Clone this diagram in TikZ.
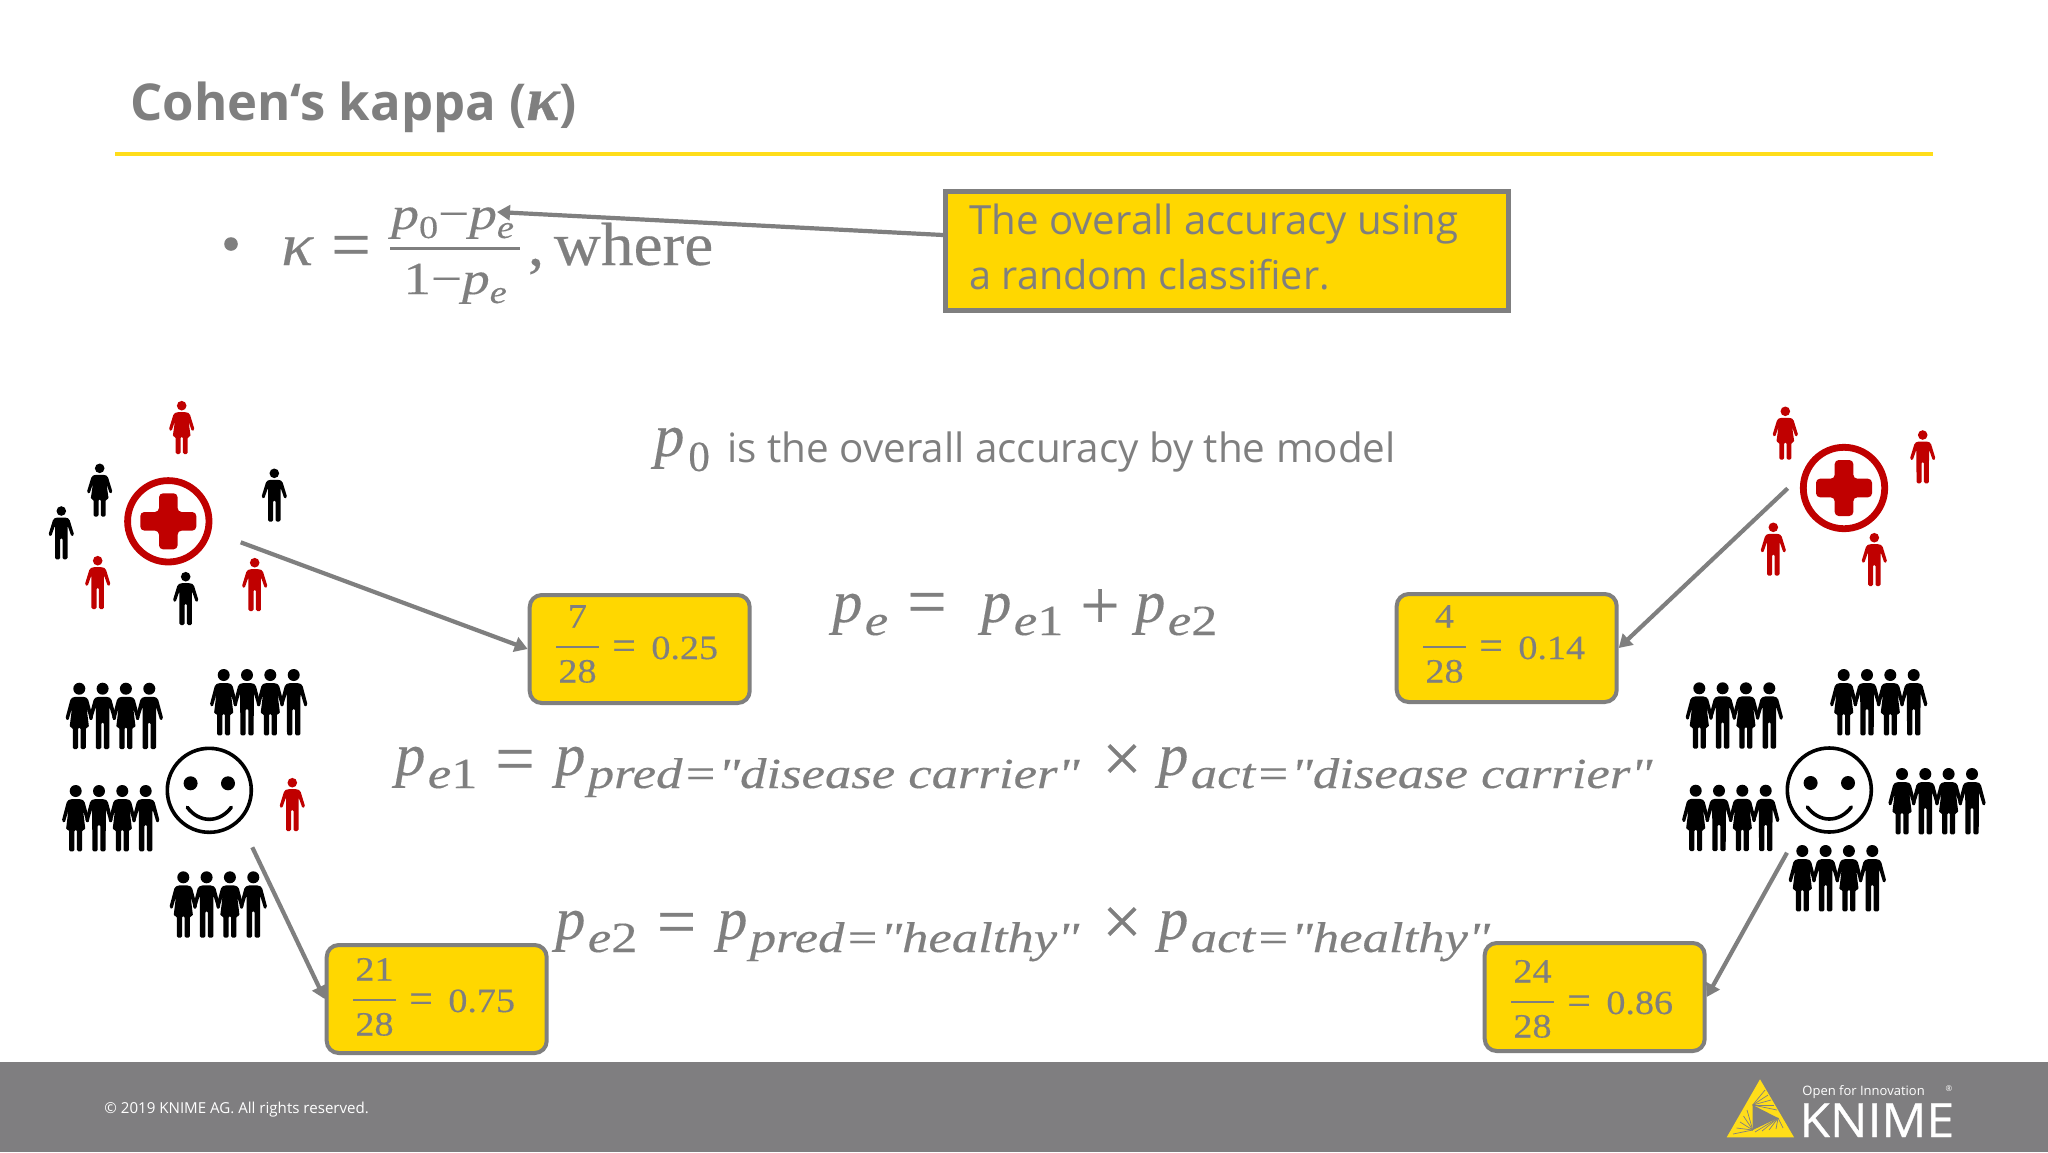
\documentclass[tikz,border=0pt]{standalone}
\usepackage{fontspec}
\usepackage{graphicx}
\usetikzlibrary{arrows.meta}
\setmainfont{Open Sans}
\newfontfamily\mf[FakeBold=0.25]{Liberation Serif}
\newfontfamily\mfb[FakeBold=0.6]{Liberation Serif}
\newfontfamily\kn[FakeBold=0.6]{Open Sans}
\definecolor{txtgray}{HTML}{7F7F7F}
\definecolor{footgray}{HTML}{7F7E80}
\definecolor{kyellow}{HTML}{FFD700}
\definecolor{linegold}{HTML}{FFDD1A}
\definecolor{redic}{HTML}{C00000}
\newcommand\bigP{{\fontsize{30}{30}\selectfont\mf\itshape p}}
\newcommand\subM[1]{\raisebox{-6.5pt}{\scalebox{1.225}[1]{\fontsize{21.5}{22}\selectfont\mf\itshape #1}}}
\newcommand\pTerm[1]{\bigP\hspace{1.2pt}\subM{#1}}
\newcommand\smallP[1]{{\fontsize{23}{23}\selectfont\mf\itshape p}\raisebox{-4.5pt}{\fontsize{16}{16}\selectfont\mf\itshape #1}}
\newcommand\symb[1]{{\fontsize{35}{35}\selectfont\mf #1}}
\tikzset{
  txt/.style={anchor=base west,inner sep=0pt,text=txtgray},
  sym/.style={anchor=center,inner sep=0pt,text=txtgray},
  ybox/.style={draw=txtgray,fill=kyellow,line width=2pt,rounded corners=6pt,inner sep=0pt},
  conn/.style={draw=txtgray,line width=2.1pt,-{Triangle[length=6.5pt,width=7.5pt]}},
}
% man/woman: x, y (head centre), scale, colour
\newcommand\man[4]{\begin{scope}[shift={(#1,#2)}]
\fill[#4] (0,0) circle[radius=4.8*#3];
\pgfmathsetmacro\sx{1+(#3-1)*0.32}
\begin{scope}[xscale=\sx,yscale=#3]
\fill[#4,rounded corners=0.7pt] (-5,6.5)--(5,6.5)--(8,8)--(12.9,24)--(10.2,25.6)--(6.3,14.5)--(6.2,48.3)--(1.2,48.3)--(1.2,27)--(-1.2,27)--(-1.2,48.3)--(-6.2,48.3)--(-6.3,14.5)--(-10.2,25.6)--(-12.9,24)--(-8,8)--cycle;
\end{scope}\end{scope}}
\newcommand\woman[4]{\begin{scope}[shift={(#1,#2)}]
\fill[#4] (0,0) circle[radius=4.8*#3];
\pgfmathsetmacro\sx{1+(#3-1)*0.32}
\begin{scope}[xscale=\sx,yscale=#3]
\fill[#4,rounded corners=0.7pt] (-5,6.5)--(5,6.5)--(8,8)--(12.9,24)--(10.2,25.6)--(6.8,15.5)--(9,31)--(6,31)--(6,48.3)--(1.2,48.3)--(1.2,31)--(-1.2,31)--(-1.2,48.3)--(-6,48.3)--(-6,31)--(-9,31)--(-6.8,15.5)--(-10.2,25.6)--(-12.9,24)--(-8,8)--cycle;
\end{scope}\end{scope}}
\newcommand\crowd[2]{\woman{#1}{#2}{1.25}{black}\man{#1+23.3}{#2}{1.25}{black}\woman{#1+46.6}{#2}{1.25}{black}\man{#1+70}{#2}{1.25}{black}}
\newcommand\redcross[2]{\begin{scope}[shift={(#1,#2)}]
\draw[redic,line width=3.4pt] (0,0) circle[radius=40.7];
\fill[redic,rounded corners=2pt] (-9.3,-28)--(9.3,-28)--(9.3,-9.3)--(28,-9.3)--(28,9.3)--(9.3,9.3)--(9.3,28)--(-9.3,28)--(-9.3,9.3)--(-28,9.3)--(-28,-9.3)--(-9.3,-9.3)--cycle;
\end{scope}}
\newcommand\smiley[2]{\begin{scope}[shift={(#1,#2)}]
\draw[black,line width=1.8pt] (0,0) circle[radius=42];
\fill[black] (-18.7,-7) circle[radius=7] (18.7,-7) circle[radius=7];
\draw[black,line width=1.8pt,line cap=round] (-22,17) .. controls (-10,33) and (10,33) .. (22,17);
\end{scope}}
% fraction inside a box: name, left, top, numerator, denominator, value, content shift
\newcommand\fracBox[7]{
\node[ybox,minimum width=110pt,minimum height=54pt,anchor=north west] (#1) at (#2-1.3,#3-1) {};
\node[anchor=base,inner sep=0pt,text=txtgray] (#1n) at (#2+48.5,#3+36.5+#7) {\scalebox{1.12}[1]{\fontsize{17}{17}\selectfont\mf #4}};
\node[anchor=base,inner sep=0pt,text=txtgray] (#1d) at (#2+48.5,#3+91.5+#7) {\scalebox{1.12}[1]{\fontsize{17}{17}\selectfont\mf #5}};
\draw[txtgray,line width=1.4pt] (#2+27,#3+56+#7) -- (#2+70,#3+56+#7);
\node[sym] (#1e) at (#2+95,#3+59+#7) {\fontsize{21}{21}\selectfont\mf =};
\node[txt] (#1v) at (#2+122,#3+68+#7) {\scalebox{1.12}[1]{\fontsize{17}{17}\selectfont\mf #6}};
}
\begin{document}
\begin{tikzpicture}[x=0.5pt,y=-0.5pt]
\useasboundingbox (0,0) rectangle (2048,1152);
\fill[white] (0,0) rectangle (2048,1152);
% title
\node[txt] (title) at (130,120) {\fontsize{25.4}{26}\selectfont\bfseries Cohen‘s kappa ({\mfb\itshape\fontsize{31}{31}\selectfont κ})};
\draw[linegold,line width=2.4pt] (115,154) -- (1933,154);
% footer
\fill[footgray] (0,1062) rectangle (2048,1152);
\node[anchor=base west,inner sep=0pt,text=white] (copy) at (104,1113) {\fontsize{7.55}{9}\selectfont © 2019 KNIME AG. All rights reserved.};
% logo
\fill[linegold] (1760,1079.3) -- (1726.7,1137.3) -- (1794,1137.3) -- cycle;
\fill[footgray] (1752.7,1105) -- (1752.7,1130) -- (1778,1118) -- cycle;
\foreach \t in {0,...,4}{
 \draw[footgray,line width=0.35pt] (1752.7,1105) -- (1765+\t*3,1090+\t*5);
 \draw[footgray,line width=0.35pt] (1752.7,1130) -- (1733+\t*3.5,1134-\t*6);
 \draw[footgray,line width=0.35pt] (1778,1118) -- (1755+\t*7,1132-\t*1);
}
\node[anchor=base west,inner sep=0pt,text=white] (open) at (1802,1095) {\fontsize{6.5}{8}\selectfont Open for Innovation};
\node[anchor=base west,inner sep=0pt,text=white] (knime) at (1799,1137) {\scalebox{1.06}[1]{\fontsize{23.5}{24}\selectfont\kn KNIME}};
\node[anchor=center,inner sep=0pt,text=white] (reg) at (1949,1089) {\fontsize{4}{5}\selectfont ®};
% kappa formula
\fill[txtgray] (231,244) circle[radius=6.8];
\node[txt] (kap) at (281,265) {\scalebox{1.1}[1]{\fontsize{30}{30}\selectfont\mf\itshape κ}};
\node[sym] (kapeq) at (351,252) {\symb{=}};
\node[txt] (numer) at (391,229) {\scalebox{1.2}[1]{\smallP{\upshape 0}{\fontsize{23}{23}\selectfont\mf −}\smallP{e}}};
\draw[txtgray,line width=1.5pt] (390,248.3) -- (520,248.3);
\node[txt] (denom) at (403,294) {\scalebox{1.2}[1]{{\fontsize{23}{23}\selectfont\mf 1−}\smallP{e}}};
\node[txt] (where) at (527.5,265) {\scalebox{1.07}[1]{\fontsize{30.5}{31}\selectfont\mf ,\hspace{4.5pt}where}};
% callout
\node[draw=txtgray,fill=kyellow,line width=2.5pt,minimum width=281.5pt,minimum height=59.5pt,inner sep=0pt,anchor=north west] (callout) at (943,189) {};
\node[txt] (c1) at (969,234) {\fontsize{20.1}{22}\selectfont The overall accuracy using};
\node[txt] (c2) at (969,289) {\fontsize{19.8}{22}\selectfont a random classifier.};
\coordinate (calloutL) at (943,235);
\coordinate (peTip) at (497,212);
\draw[conn] (calloutL) -- (peTip);
% p0 line
\node[txt] (pz) at (654,456) {\bigP\hspace{2pt}\raisebox{-7.5pt}{\fontsize{21.5}{22}\selectfont\mf 0}};
\node[txt] (pztext) at (727,462) {\fontsize{20.2}{22}\selectfont is the overall accuracy by the model};
% pe = pe1 + pe2
\node[txt] (pe) at (832,622) {\pTerm{e}};
\node[sym] (peq) at (927,609) {\symb{=}};
\node[txt] (pea) at (981,622) {\pTerm{e\upshape 1}};
\node[sym] (plus) at (1100,609) {\symb{+}};
\node[txt] (peb) at (1135,622) {\pTerm{e\upshape 2}};
% pe1 line
\node[txt] (la) at (395,775) {\pTerm{e\upshape 1}};
\node[sym] (laeq) at (515,766) {\symb{=}};
\node[txt] (lb) at (555,775) {\pTerm{pred="disease carrier"}};
\node[sym] (lx) at (1122,763) {\symb{×}};
\node[txt] (lc) at (1158,775) {\pTerm{act="disease carrier"}};
% pe2 line
\node[txt] (ma) at (555,939) {\pTerm{e\upshape 2}};
\node[sym] (maeq) at (676.5,929) {\symb{=}};
\node[txt] (mb) at (717,939) {\pTerm{pred="healthy"}};
\node[sym] (mx) at (1122,926) {\symb{×}};
\node[txt] (mc) at (1158,939) {\pTerm{act="healthy"}};
% left people
\woman{181.7}{405.7}{1}{redic}
\woman{99.7}{468.3}{1}{black}
\man{274.3}{473.3}{1}{black}
\man{61.3}{511}{1}{black}
\man{97.7}{560.7}{1}{redic}
\man{185.7}{576.7}{1}{black}
\man{254.7}{562.7}{1}{redic}
\redcross{168.3}{521.3}
\crowd{79.3}{688.7}
\crowd{223.7}{675}
\crowd{75.7}{791}
\crowd{183.3}{877.3}
\smiley{209.3}{790.3}
\man{292.3}{782.7}{1}{redic}
% right people
\woman{1785.3}{411.3}{1}{redic}
\man{1922.7}{435}{1}{redic}
\man{1773.3}{527.3}{1}{redic}
\man{1874.3}{537.7}{1}{redic}
\redcross{1844}{488}
\crowd{1699.3}{688.3}
\crowd{1843.7}{675}
\crowd{1695.7}{790.7}
\crowd{1902}{774}
\crowd{1802.3}{851}
\smiley{1829.3}{790}
% boxes
\fracBox{boxa}{529}{594}{7}{28}{0.25}{-3}
\fracBox{boxb}{1396}{593}{4}{28}{0.14}{-2}
\fracBox{boxc}{326}{944}{21}{28}{0.75}{0}
\fracBox{boxd}{1484}{942}{24}{28}{0.86}{4}
% arrows
\coordinate (sa) at (240.7,542.3);
\coordinate (sb) at (1787.7,488.3);
\coordinate (sc) at (252.3,847.3);
\coordinate (sd) at (1787,852.7);
\draw[conn] (sa) -- (boxa.west);
\draw[conn] (sb) -- (boxb.east);
\draw[conn] (sc) -- (boxc.west);
\draw[conn] (sd) -- (boxd.east);
\end{tikzpicture}
\end{document}
